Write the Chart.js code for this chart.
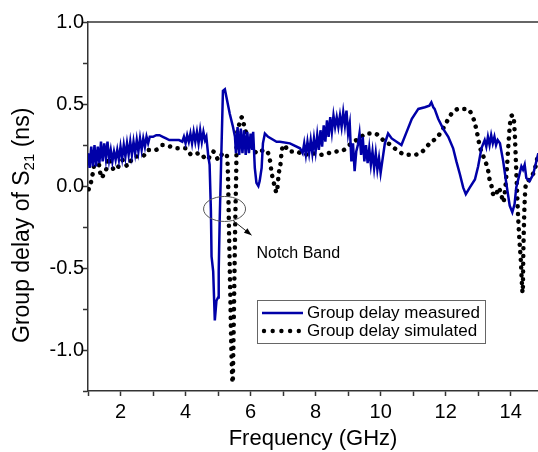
<!DOCTYPE html>
<html>
<head>
<meta charset="utf-8">
<script src="https://cdn.jsdelivr.net/npm/chart.js@4"></script>
<style>
  html, body { margin: 0; padding: 0; background: #fff; }
  canvas { display: block; }
</style>
</head>
<body>
<canvas id="gdChart" width="538" height="452"></canvas>
<script>
// measured group delay (GHz, ns) - noisy parts traced as top/bottom of the band
const freqMeas = [
  1.00, 1.05, 1.10, 1.15, 1.20, 1.25, 1.30, 1.35, 1.40, 1.45, 1.50, 1.55, 1.60, 1.65, 1.70, 1.75,
  1.80, 1.85, 1.90, 1.95, 2.00, 2.05, 2.10, 2.15, 2.20, 2.25, 2.30, 2.35, 2.40, 2.45, 2.50, 2.55,
  2.60, 2.65, 2.70, 2.75, 2.80, 2.85, 2.90, 3.00, 3.10, 3.20, 3.30, 3.40, 3.50, 3.60, 3.70, 3.80,
  3.90, 3.95, 4.00, 4.05, 4.10, 4.15, 4.20, 4.25, 4.30, 4.35, 4.40, 4.45, 4.50, 4.55, 4.60, 4.64,
  4.70, 4.74, 4.78, 4.80, 4.85, 4.88, 4.90, 4.95, 5.00, 5.02, 5.05, 5.10, 5.15, 5.21, 5.26, 5.36,
  5.46, 5.52, 5.55, 5.60, 5.65, 5.70, 5.75, 5.80, 5.85, 5.90, 5.95, 6.00, 6.05, 6.08, 6.13, 6.18,
  6.24, 6.28, 6.34, 6.38, 6.44, 6.54, 6.80, 6.90, 7.21, 7.52, 7.60, 7.65, 7.70, 7.75, 7.80, 7.85,
  7.90, 7.95, 8.00, 8.05, 8.10, 8.15, 8.20, 8.25, 8.30, 8.35, 8.40, 8.45, 8.50, 8.55, 8.60, 8.65,
  8.70, 8.75, 8.80, 8.85, 8.90, 8.95, 9.00, 9.05, 9.10, 9.15, 9.20, 9.25, 9.30, 9.35, 9.40, 9.45,
  9.50, 9.55, 9.60, 9.65, 9.70, 9.75, 9.80, 9.85, 9.90, 9.95, 10.00, 10.05, 10.13, 10.23, 10.34, 10.49,
  10.64, 10.80, 10.96, 11.16, 11.36, 11.50, 11.56, 11.62, 11.66, 11.77, 11.92, 12.08, 12.23, 12.33, 12.44, 12.54,
  12.62, 12.74, 12.90, 13.00, 13.10, 13.20, 13.25, 13.30, 13.35, 13.40, 13.45, 13.50, 13.55, 13.60, 13.67, 13.77,
  13.87, 13.97, 14.05, 14.12, 14.17, 14.28, 14.33, 14.38, 14.43, 14.48, 14.58, 14.69, 14.80, 14.85
];
const delayMeas = [
  0.20, 0.11, 0.24, 0.12, 0.25, 0.12, 0.24, 0.14, 0.27, 0.15, 0.26, 0.17, 0.27, 0.16, 0.22, 0.15,
  0.21, 0.16, 0.22, 0.16, 0.24, 0.17, 0.25, 0.18, 0.26, 0.19, 0.27, 0.19, 0.27, 0.20, 0.28, 0.21,
  0.29, 0.22, 0.29, 0.24, 0.30, 0.26, 0.30, 0.30, 0.31, 0.31, 0.30, 0.29, 0.28, 0.28, 0.28, 0.28,
  0.27, 0.30, 0.26, 0.31, 0.27, 0.32, 0.26, 0.33, 0.27, 0.33, 0.26, 0.34, 0.27, 0.33, 0.28, 0.30,
  0.18, 0.13, -0.15, -0.43, -0.52, -0.70, -0.82, -0.70, -0.68, -0.52, -0.21, 0.19, 0.58, 0.59, 0.54, 0.44,
  0.36, 0.30, 0.20, 0.36, 0.19, 0.35, 0.20, 0.34, 0.19, 0.33, 0.20, 0.32, 0.22, 0.33, 0.11, 0.02,
  0.00, 0.03, 0.11, 0.26, 0.32, 0.30, 0.27, 0.27, 0.26, 0.23, 0.20, 0.26, 0.19, 0.27, 0.20, 0.28,
  0.20, 0.29, 0.21, 0.31, 0.22, 0.34, 0.24, 0.37, 0.27, 0.40, 0.30, 0.42, 0.33, 0.43, 0.36, 0.42,
  0.36, 0.43, 0.36, 0.45, 0.37, 0.46, 0.32, 0.38, 0.15, 0.26, 0.09, 0.21, 0.25, 0.32, 0.19, 0.30,
  0.15, 0.25, 0.14, 0.23, 0.13, 0.21, 0.11, 0.20, 0.10, 0.17, 0.08, 0.15, 0.26, 0.32, 0.29, 0.27,
  0.25, 0.33, 0.41, 0.47, 0.48, 0.49, 0.51, 0.48, 0.47, 0.41, 0.35, 0.30, 0.23, 0.15, 0.07, -0.01,
  -0.05, -0.01, 0.04, 0.12, 0.23, 0.28, 0.24, 0.30, 0.25, 0.31, 0.26, 0.30, 0.25, 0.28, 0.26, 0.15,
  0.01, -0.12, -0.16, -0.11, -0.01, 0.08, 0.12, 0.10, 0.13, 0.05, 0.03, 0.07, 0.16, 0.20
];

// simulated group delay (GHz, ns)
const freqSim = [
  1.02, 1.10, 1.14, 1.21, 1.29, 1.36, 1.41, 1.48, 1.57, 1.61, 1.72, 1.79, 1.88, 1.98, 2.10, 2.21,
  2.34, 2.50, 2.68, 2.84, 3.08, 3.29, 3.54, 3.76, 4.00, 4.19, 4.44, 4.66, 4.85, 5.02, 5.15, 5.26,
  5.30, 5.34, 5.38, 5.41, 5.45, 5.47, 5.50, 5.53, 5.56, 5.57, 5.62, 5.67, 5.74, 5.80, 5.87, 5.95,
  6.05, 6.23, 6.41, 6.56, 6.61, 6.64, 6.69, 6.74, 6.80, 6.87, 6.93, 6.95, 7.03, 7.18, 7.41, 7.65,
  7.89, 8.13, 8.38, 8.62, 8.87, 9.10, 9.34, 9.58, 9.82, 10.08, 10.31, 10.56, 10.80, 11.03, 11.28, 11.51,
  11.75, 11.92, 12.03, 12.18, 12.41, 12.64, 12.82, 12.90, 12.95, 13.00, 13.05, 13.14, 13.24, 13.31, 13.34, 13.41,
  13.46, 13.54, 13.62, 13.72, 13.77, 13.82, 13.88, 13.93, 13.98, 14.04, 14.08, 14.13, 14.16, 14.19, 14.22, 14.26,
  14.31, 14.37, 14.39, 14.42, 14.46, 14.53, 14.68, 14.80, 14.84
];
const delaySim = [
  -0.02, 0.03, 0.07, 0.15, 0.19, 0.10, 0.05, 0.07, 0.11, 0.17, 0.14, 0.10, 0.10, 0.14, 0.16, 0.12,
  0.16, 0.18, 0.18, 0.22, 0.22, 0.25, 0.24, 0.23, 0.23, 0.19, 0.20, 0.16, 0.21, 0.16, 0.20, 0.19,
  0.10, -0.30, -0.70, -1.00, -1.20, -1.00, -0.60, -0.20, 0.10, 0.26, 0.35, 0.39, 0.42, 0.37, 0.32, 0.27,
  0.23, 0.20, 0.22, 0.19, 0.14, 0.09, 0.04, 0.00, -0.04, 0.08, 0.15, 0.20, 0.25, 0.21, 0.21, 0.19,
  0.20, 0.19, 0.20, 0.21, 0.22, 0.26, 0.29, 0.32, 0.32, 0.28, 0.25, 0.21, 0.19, 0.19, 0.21, 0.26,
  0.30, 0.35, 0.39, 0.44, 0.47, 0.47, 0.43, 0.38, 0.34, 0.29, 0.24, 0.19, 0.14, 0.09, 0.05, 0.00,
  -0.05, -0.06, -0.01, -0.06, -0.10, -0.04, 0.10, 0.25, 0.38, 0.43, 0.43, 0.30, 0.15, 0.00, -0.15, -0.30,
  -0.45, -0.65, -0.40, -0.15, 0.00, 0.03, 0.07, 0.15, 0.20
];

const seriesLabels = ["Group delay measured", "Group delay simulated"];
const xTitle = "Frequency (GHz)";
const notchText = "Notch Band";

const FONT = "'Liberation Sans', Arial, sans-serif";
const BLUE = "#0000a8";
const AXIS = "#333333";

function pts(xs, ys) {
  return xs.map((x, i) => ({ x: x, y: ys[i] }));
}

// extra drawing: top frame, y title with subscript, notch annotation, legend box
const decor = {
  id: "decor",
  afterDraw(chart) {
    const { ctx, chartArea: a, scales } = chart;
    const x = scales.x, y = scales.y;
    ctx.save();

    ctx.strokeStyle = AXIS;
    ctx.lineWidth = 1.5;
    ctx.beginPath();
    ctx.moveTo(a.left, a.top);
    ctx.lineTo(a.right, a.top);
    ctx.stroke();

    // y axis title: Group delay of S21 (ns)
    ctx.save();
    ctx.translate(29, 343);
    ctx.rotate(-Math.PI / 2);
    ctx.fillStyle = "#000";
    ctx.textAlign = "left";
    ctx.textBaseline = "alphabetic";
    ctx.font = "23px " + FONT;
    let t = "Group delay of S";
    ctx.fillText(t, 0, 0);
    let w = ctx.measureText(t).width;
    ctx.font = "15px " + FONT;
    ctx.fillText("21", w, 5);
    w += ctx.measureText("21").width;
    ctx.font = "23px " + FONT;
    ctx.fillText(" (ns)", w, 0);
    ctx.restore();

    // notch band ellipse + arrow + label
    const ex = x.getPixelForValue(5.2), ey = y.getPixelForValue(-0.14);
    ctx.strokeStyle = "#555";
    ctx.lineWidth = 1;
    ctx.beginPath();
    ctx.ellipse(ex, ey, 21, 12.5, 0, 0, Math.PI * 2);
    ctx.stroke();

    const ax0 = x.getPixelForValue(5.46), ay0 = y.getPixelForValue(-0.21);
    const ax1 = x.getPixelForValue(6.03), ay1 = y.getPixelForValue(-0.30);
    ctx.strokeStyle = "#222";
    ctx.beginPath();
    ctx.moveTo(ax0, ay0);
    ctx.lineTo(ax1, ay1);
    ctx.stroke();
    const ang = Math.atan2(ay1 - ay0, ax1 - ax0);
    ctx.fillStyle = "#000";
    ctx.beginPath();
    ctx.moveTo(ax1, ay1);
    ctx.lineTo(ax1 - 8 * Math.cos(ang - 0.35), ay1 - 8 * Math.sin(ang - 0.35));
    ctx.lineTo(ax1 - 8 * Math.cos(ang + 0.35), ay1 - 8 * Math.sin(ang + 0.35));
    ctx.closePath();
    ctx.fill();

    ctx.font = "16px " + FONT;
    ctx.textBaseline = "middle";
    ctx.fillText(notchText, x.getPixelForValue(6.18), y.getPixelForValue(-0.41));

    // legend box
    const lx = 257, ly = 300, lw = 228, lh = 43;
    ctx.strokeStyle = "#666";
    ctx.lineWidth = 1;
    ctx.fillStyle = "#fff";
    ctx.fillRect(lx, ly, lw, lh);
    ctx.strokeRect(lx + 0.5, ly + 0.5, lw, lh);

    const ds = chart.data.datasets;
    ctx.strokeStyle = ds[0].borderColor;
    ctx.lineWidth = 2.5;
    ctx.beginPath();
    ctx.moveTo(262, 313);
    ctx.lineTo(303, 313);
    ctx.stroke();

    ctx.fillStyle = "#000";
    for (let i = 0; i < 5; i++) {
      ctx.beginPath();
      ctx.arc(264 + i * 8.7, 331, 2.2, 0, Math.PI * 2);
      ctx.fill();
    }

    ctx.font = "17px " + FONT;
    ctx.textBaseline = "middle";
    ctx.fillText(ds[0].label, 307, 313);
    ctx.fillText(ds[1].label, 307, 331);

    ctx.restore();
  }
};

new Chart(document.getElementById("gdChart"), {
  type: "line",
  data: {
    datasets: [{
      label: seriesLabels[0],
      data: pts(freqMeas, delayMeas),
      borderColor: BLUE,
      borderWidth: 2.5,
      pointRadius: 0,
      tension: 0
    }, {
      label: seriesLabels[1],
      data: pts(freqSim, delaySim),
      borderColor: "#000",
      borderWidth: 4.5,
      borderDash: [0.1, 7.6],
      borderCapStyle: "round",
      pointRadius: 0,
      tension: 0.3,
      cubicInterpolationMode: "monotone"
    }]
  },
  options: {
    responsive: false,
    animation: false,
    devicePixelRatio: 1,
    layout: { padding: { top: 22, right: 0, left: 0, bottom: 0 } },
    plugins: {
      legend: { display: false },
      tooltip: { enabled: false }
    },
    scales: {
      x: {
        type: "linear",
        min: 1,
        max: 14.84,
        afterFit(s) { s.height = 61; },
        border: { color: AXIS, width: 1.5 },
        grid: { drawOnChartArea: false, drawTicks: true, tickLength: 5, tickColor: AXIS, tickWidth: 1.5 },
        ticks: {
          stepSize: 1,
          includeBounds: false,
          autoSkip: false,
          maxRotation: 0,
          padding: 4,
          color: "#000",
          font: { family: FONT, size: 20 },
          callback: v => (v % 2 === 0 ? String(v) : "")
        },
        title: {
          display: true,
          text: xTitle,
          color: "#000",
          font: { family: FONT, size: 22 },
          padding: { top: 0, bottom: 0 }
        }
      },
      y: {
        type: "linear",
        min: -1.25,
        max: 1.0,
        afterFit(s) { s.width = 88; },
        border: { color: AXIS, width: 1.5 },
        grid: { drawOnChartArea: false, drawTicks: true, tickLength: 5, tickColor: AXIS, tickWidth: 1.5 },
        ticks: {
          stepSize: 0.25,
          autoSkip: false,
          padding: -1,
          color: "#000",
          font: { family: FONT, size: 20 },
          callback: v => {
            const r = Math.round(v * 2);
            return Math.abs(v * 2 - r) < 1e-6 ? (r / 2).toFixed(1) : "";
          }
        }
      }
    }
  },
  plugins: [decor]
});
</script>
</body>
</html>
